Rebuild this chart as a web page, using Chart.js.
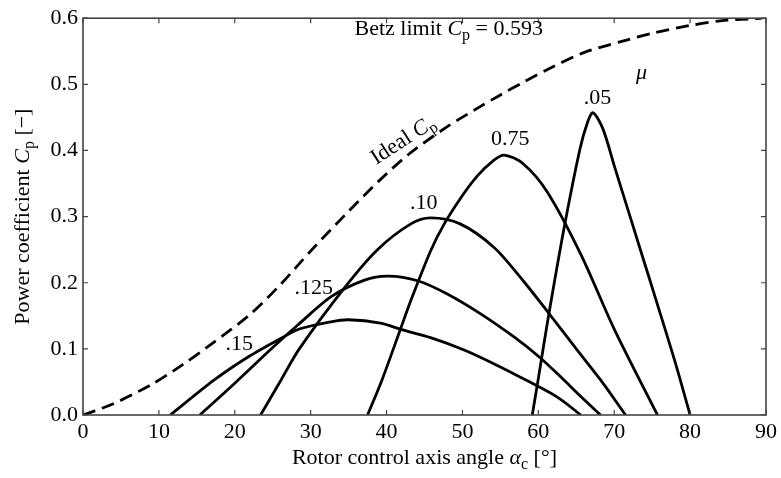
<!DOCTYPE html>
<html><head><meta charset="utf-8">
<script src="https://cdn.jsdelivr.net/npm/chart.js@4/dist/chart.umd.min.js"></script>
<style>html,body{margin:0;padding:0;background:#fff}</style>
</head><body>
<canvas id="c" width="781" height="478"></canvas>
<script>
// ---- data ----
const xTicks = [0, 10, 20, 30, 40, 50, 60, 70, 80, 90];
const yTicks = [0.0, 0.1, 0.2, 0.3, 0.4, 0.5, 0.6];

const idealX = [0, 4, 9, 13, 17, 22, 26, 30, 35, 39, 43, 48, 52, 55, 58, 62, 66, 71, 75, 80, 84, 88, 89.5];
const idealY = [0, 0.017, 0.046, 0.075, 0.108, 0.152, 0.197, 0.248, 0.308, 0.354, 0.395, 0.436, 0.464, 0.484, 0.503, 0.527, 0.548, 0.565, 0.577, 0.589, 0.596, 0.599, 0.6];

const mu050X = [59.2, 60, 61.2, 63.4, 65.5, 66.5, 67.2, 68.5, 70, 71.3, 73.5, 75.7, 78, 80];
const mu050Y = [0, 0.055, 0.14, 0.283, 0.403, 0.443, 0.457, 0.433, 0.377, 0.329, 0.248, 0.167, 0.081, 0];

const mu075X = [37.5, 39.4, 41.9, 43.2, 45.8, 47.6, 50, 52, 54, 55.5, 58, 61.2, 65.6, 70, 75.7];
const mu075Y = [0, 0.053, 0.132, 0.173, 0.248, 0.289, 0.332, 0.362, 0.384, 0.393, 0.38, 0.337, 0.243, 0.13, 0];

const mu100X = [23.4, 26.1, 28.5, 34.5, 38.8, 43.2, 45.8, 49.7, 54.2, 58, 61.3, 65, 68.2, 71.5];
const mu100Y = [0, 0.053, 0.1, 0.193, 0.25, 0.289, 0.298, 0.289, 0.253, 0.203, 0.155, 0.1, 0.053, 0];

const mu125X = [15.4, 20, 25, 28.3, 32.7, 37.1, 40.2, 44.1, 48, 52.4, 56.8, 60.2, 63, 65.6, 68.2];
const mu125Y = [0, 0.048, 0.102, 0.136, 0.179, 0.204, 0.21, 0.203, 0.183, 0.153, 0.118, 0.087, 0.057, 0.028, 0];

const mu150X = [11.5, 17.3, 21.8, 26.1, 28.5, 32.7, 35, 39.2, 42, 45.8, 50.3, 54.6, 58.5, 62.5, 65.6];
const mu150Y = [0, 0.053, 0.088, 0.116, 0.13, 0.141, 0.144, 0.139, 0.129, 0.117, 0.098, 0.075, 0.052, 0.027, 0];

const curveLabels = ['.05', '0.75', '.10', '.125', '.15'];
const curveLabelX = [67.8, 56.3, 44.9, 30.4, 20.6];
const curveLabelY = [0.471, 0.409, 0.311, 0.183, 0.098];

// ---- drawing ----
const FONT = "'Liberation Serif','Times New Roman',serif";
const FS = 22;
const pts = (xs, ys) => xs.map((v, i) => ({x: v, y: ys[i]}));
const solid = (label, xs, ys) => ({
  label, data: pts(xs, ys), borderColor: '#000', borderWidth: 2.8,
  pointRadius: 0, fill: false, tension: 0.3
});

function rich(ctx, segs, x, y, rot, size, mid) {
  const fonts = segs.map(s => (s.it ? 'italic ' : '') + (s.sub ? Math.round(size * 0.72) : size) + 'px ' + FONT);
  let w = 0;
  const ws = segs.map((s, i) => { ctx.font = fonts[i]; const m = ctx.measureText(s.t).width; w += m; return m; });
  ctx.save();
  ctx.translate(x, y); ctx.rotate(rot);
  ctx.fillStyle = '#000'; ctx.textAlign = 'left'; ctx.textBaseline = 'alphabetic';
  let cx = -w / 2;
  const by = mid ? size * 0.33 : 0;
  segs.forEach((s, i) => { ctx.font = fonts[i]; ctx.fillText(s.t, cx, by + (s.sub ? size * 0.22 : 0)); cx += ws[i]; });
  ctx.restore();
}

const deco = {
  id: 'deco',
  afterDatasetsDraw(chart) {
    const {ctx, chartArea: a, scales: {x, y}} = chart;
    ctx.save();
    ctx.strokeStyle = '#444'; ctx.lineWidth = 1.2;
    ctx.beginPath();
    xTicks.forEach(v => {
      const px = x.getPixelForValue(v);
      ctx.moveTo(px, a.bottom); ctx.lineTo(px, a.bottom - 5);
      ctx.moveTo(px, a.top); ctx.lineTo(px, a.top + 5);
    });
    yTicks.forEach(v => {
      const py = y.getPixelForValue(v);
      ctx.moveTo(a.left, py); ctx.lineTo(a.left + 5, py);
      ctx.moveTo(a.right, py); ctx.lineTo(a.right - 5, py);
    });
    ctx.stroke();
    ctx.lineWidth = 1.6;
    ctx.strokeRect(a.left, a.top, a.right - a.left, a.bottom - a.top);

    // curve labels
    ctx.fillStyle = '#000'; ctx.textAlign = 'center'; ctx.textBaseline = 'alphabetic';
    ctx.font = FS + 'px ' + FONT;
    curveLabels.forEach((t, i) => ctx.fillText(t, x.getPixelForValue(curveLabelX[i]), y.getPixelForValue(curveLabelY[i])));
    ctx.font = 'italic ' + FS + 'px ' + FONT;
    ctx.fillText('\u03bc', x.getPixelForValue(73.6), y.getPixelForValue(0.508));

    rich(ctx, [{t: 'Betz limit '}, {t: 'C', it: 1}, {t: 'p', sub: 1}, {t: ' = 0.593'}],
      x.getPixelForValue(48.2), y.getPixelForValue(0.574), 0, FS, false);
    rich(ctx, [{t: 'Ideal '}, {t: 'C', it: 1}, {t: 'p', sub: 1}],
      x.getPixelForValue(42.1), y.getPixelForValue(0.417), -33 * Math.PI / 180, FS, true);

    // axis titles
    rich(ctx, [{t: 'Rotor control axis angle '}, {t: '\u03b1', it: 1}, {t: 'c', sub: 1}, {t: ' [\u00b0]'}],
      (a.left + a.right) / 2, a.bottom + 49, 0, FS, false);
    rich(ctx, [{t: 'Power coefficient '}, {t: 'C', it: 1}, {t: 'p', sub: 1}, {t: ' [\u2212]'}],
      22, (a.top + a.bottom) / 2, -Math.PI / 2, FS, true);
    ctx.restore();
  }
};

new Chart(document.getElementById('c'), {
  type: 'line',
  data: {
    datasets: [
      {label: 'Ideal Cp', data: pts(idealX, idealY), borderColor: '#000', borderWidth: 2.8,
       borderDash: [13, 7], pointRadius: 0, fill: false, tension: 0.3},
      solid('.05', mu050X, mu050Y),
      solid('0.75', mu075X, mu075Y),
      solid('.10', mu100X, mu100Y),
      solid('.125', mu125X, mu125Y),
      solid('.15', mu150X, mu150Y)
    ]
  },
  options: {
    responsive: false, animation: false,
    layout: {padding: {top: 16, right: 12, left: 0, bottom: 0}},
    plugins: {legend: {display: false}, tooltip: {enabled: false}},
    scales: {
      x: {
        type: 'linear', min: 0, max: 90,
        afterBuildTicks: s => { s.ticks = xTicks.map(v => ({value: v})); },
        afterFit: s => { s.height = 63; },
        grid: {display: false, drawTicks: false}, border: {display: false},
        ticks: {padding: 4, color: '#000', font: {family: FONT, size: FS}, maxRotation: 0,
                callback: v => String(v)}
      },
      y: {
        min: 0, max: 0.6,
        afterBuildTicks: s => { s.ticks = yTicks.map(v => ({value: v})); },
        afterFit: s => { s.width = 83; },
        grid: {display: false, drawTicks: false}, border: {display: false},
        ticks: {padding: 5, color: '#000', font: {family: FONT, size: FS},
                callback: v => Number(v).toFixed(1)}
      }
    }
  },
  plugins: [deco]
});
</script>
</body></html>
